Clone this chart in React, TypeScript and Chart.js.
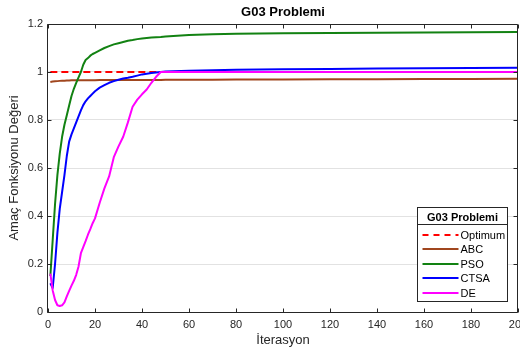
import React, { useEffect, useRef } from "react";
import { Chart, registerables } from "chart.js";

Chart.register(...registerables);

const chartTitle = "G03 Problemi";
const xAxisTitle = "İterasyon";
const yAxisTitle = "Amaç Fonksiyonu Değeri";

const xTickValues = [0, 20, 40, 60, 80, 100, 120, 140, 160, 180, 200];
const xTickLabels = ["0", "20", "40", "60", "80", "100", "120", "140", "160", "180", "200"];
const yTickValues = [0, 0.2, 0.4, 0.6, 0.8, 1, 1.2];
const yTickLabels = ["0", "0.2", "0.4", "0.6", "0.8", "1", "1.2"];

const seriesNames = ["Optimum", "ABC", "PSO", "CTSA", "DE"];

const iterations = [
  1, 2, 3, 4, 5, 6, 7, 8, 9, 10, 11, 12, 13, 14, 15, 16, 17, 18, 19, 20,
  22, 24, 26, 28, 30, 32, 34, 36, 38, 40, 42, 44, 46, 48, 50,
  60, 70, 80, 100, 120, 140, 160, 180, 200,
];

const optimumIterations = [1, 200];
const optimumValues = [1, 1];

const abcValues = [
  0.958, 0.96, 0.961, 0.962, 0.963, 0.964, 0.964, 0.965, 0.965, 0.966, 0.966, 0.966, 0.966, 0.966, 0.966, 0.966, 0.966, 0.966, 0.966, 0.966,
  0.967, 0.967, 0.967, 0.967, 0.967, 0.967, 0.967, 0.967, 0.967, 0.967, 0.967, 0.967, 0.967, 0.967, 0.968,
  0.968, 0.968, 0.969, 0.969, 0.97, 0.97, 0.971, 0.971, 0.972,
];

const psoValues = [
  0.15, 0.3, 0.45, 0.57, 0.66, 0.73, 0.78, 0.82, 0.86, 0.9, 0.93, 0.955, 0.978, 1.0, 1.03, 1.05, 1.058, 1.068, 1.075, 1.08,
  1.09, 1.1, 1.108, 1.115, 1.12, 1.125, 1.13, 1.133, 1.137, 1.14, 1.142, 1.144, 1.145, 1.146, 1.148,
  1.154, 1.157, 1.159, 1.161, 1.162, 1.164, 1.165, 1.166, 1.167,
];

const ctsaValues = [
  0.12, 0.1, 0.2, 0.33, 0.43, 0.5, 0.57, 0.65, 0.71, 0.74, 0.765, 0.79, 0.815, 0.84, 0.862, 0.878, 0.89, 0.9, 0.91, 0.92,
  0.935, 0.945, 0.955, 0.962, 0.968, 0.973, 0.976, 0.98, 0.985, 0.99, 0.993, 0.996, 0.998, 1.0, 1.002,
  1.005, 1.007, 1.009, 1.011, 1.013, 1.015, 1.016, 1.017, 1.018,
];

const deValues = [
  0.16, 0.09, 0.05, 0.028, 0.025, 0.028, 0.04, 0.065, 0.088, 0.11, 0.13, 0.155, 0.19, 0.245, 0.27, 0.295, 0.322, 0.345, 0.37, 0.39,
  0.455, 0.515, 0.565, 0.645, 0.69, 0.73, 0.79, 0.855, 0.885, 0.907, 0.927, 0.955, 0.98, 1.0, 1.0,
  1.0, 1.0, 1.0, 1.0, 1.0, 1.0, 1.0, 1.0, 1.0,
];

const FONT = "'Liberation Sans', Arial, Helvetica, sans-serif";
const AXIS_COLOR = "#262626";

const toPoints = (xs: number[], ys: number[]) => xs.map((x, i) => ({ x, y: ys[i] }));

const framePlugin = {
  id: "frameAndLegend",
  afterDraw(chart: any) {
    const { ctx, chartArea: a } = chart;
    const xs = chart.scales.x;
    const ys = chart.scales.y;
    const L = Math.round(a.left) - 0.5;
    const R = Math.round(a.right) - 0.5;
    const T = Math.round(a.top) + 0.5;
    const B = Math.round(a.bottom) + 0.5;
    ctx.save();
    ctx.strokeStyle = AXIS_COLOR;
    ctx.lineWidth = 1;
    ctx.setLineDash([]);
    ctx.beginPath();
    ctx.rect(L, T, R - L, B - T);
    ctx.stroke();
    const tl = 4;
    ctx.beginPath();
    xTickValues.forEach((v) => {
      const px = Math.round(xs.getPixelForValue(v)) + 0.5;
      ctx.moveTo(px, B);
      ctx.lineTo(px, B - tl);
      ctx.moveTo(px, T);
      ctx.lineTo(px, T + tl);
    });
    yTickValues.forEach((v) => {
      const py = Math.round(ys.getPixelForValue(v)) + 0.5;
      ctx.moveTo(L, py);
      ctx.lineTo(L + tl, py);
      ctx.moveTo(R, py);
      ctx.lineTo(R - tl, py);
    });
    ctx.stroke();

    // legend
    const w = 90;
    const h = 94;
    const lx = Math.round(a.right) - 101 + 0.5;
    const ly = Math.round(a.bottom) - 105 + 0.5;
    ctx.fillStyle = "#ffffff";
    ctx.fillRect(lx, ly, w, h);
    ctx.strokeStyle = AXIS_COLOR;
    ctx.strokeRect(lx, ly, w, h);
    ctx.beginPath();
    ctx.moveTo(lx, ly + 17);
    ctx.lineTo(lx + w, ly + 17);
    ctx.stroke();
    ctx.fillStyle = "#000000";
    ctx.font = `bold 11px ${FONT}`;
    ctx.textAlign = "center";
    ctx.textBaseline = "middle";
    ctx.fillText(chartTitle, lx + w / 2, ly + 10);
    ctx.font = `11px ${FONT}`;
    ctx.textAlign = "left";
    chart.data.datasets.forEach((ds: any, i: number) => {
      const y = Math.round(ly + 27.5 + i * 14.4);
      ctx.strokeStyle = ds.borderColor;
      ctx.lineWidth = 2;
      ctx.setLineDash(ds.borderDash && ds.borderDash.length ? [6, 5] : []);
      ctx.beginPath();
      ctx.moveTo(lx + 5, y);
      ctx.lineTo(lx + 41, y);
      ctx.stroke();
      ctx.fillStyle = "#000000";
      ctx.fillText(ds.label, lx + 43, y + 0.5);
    });
    ctx.restore();
  },
};

export default function App() {
  const canvasRef = useRef<HTMLCanvasElement | null>(null);

  useEffect(() => {
    document.body.style.margin = "0";
    const canvas = canvasRef.current;
    if (!canvas) return;
    const line = (label: string, data: any[], color: string, order: number, dash?: number[]) => ({
      label,
      data,
      borderColor: color,
      backgroundColor: color,
      borderWidth: 2,
      borderDash: dash || [],
      pointRadius: 0,
      pointHoverRadius: 0,
      tension: 0,
      fill: false,
      borderJoinStyle: "round" as const,
      order,
    });
    const chart = new Chart(canvas, {
      type: "line",
      data: {
        datasets: [
          line(seriesNames[0], toPoints(optimumIterations, optimumValues), "#ff0000", 5, [7, 4]),
          line(seriesNames[1], toPoints(iterations, abcValues), "#a0461e", 4),
          line(seriesNames[2], toPoints(iterations, psoValues), "#128212", 3),
          line(seriesNames[3], toPoints(iterations, ctsaValues), "#0000ff", 2),
          line(seriesNames[4], toPoints(iterations, deValues), "#ff00ff", 1),
        ],
      },
      options: {
        animation: false,
        responsive: false,
        events: [],
        layout: { padding: { left: 0, right: 27, top: 0, bottom: 0 } },
        plugins: {
          legend: { display: false },
          tooltip: { enabled: false },
          title: {
            display: true,
            text: chartTitle,
            fullSize: false,
            color: "#000000",
            font: { family: FONT, size: 13, weight: "bold", lineHeight: 1.2 },
            padding: { top: 4.2, bottom: 4.2 },
          },
        },
        scales: {
          x: {
            type: "linear",
            min: 0,
            max: 200,
            afterBuildTicks: (s: any) => {
              s.ticks = xTickValues.map((v) => ({ value: v }));
            },
            afterFit: (s: any) => {
              s.height = 43;
            },
            grid: { display: false, drawTicks: false },
            border: { display: false },
            ticks: {
              autoSkip: false,
              maxRotation: 0,
              padding: 6,
              color: AXIS_COLOR,
              font: { family: FONT, size: 11 },
              callback: (_v: any, i: number) => xTickLabels[i],
            },
            title: {
              display: true,
              text: xAxisTitle,
              color: AXIS_COLOR,
              font: { family: FONT, size: 13, lineHeight: 1.2 },
              padding: { top: 0, bottom: 7 },
            },
          },
          y: {
            type: "linear",
            min: 0,
            max: 1.2,
            afterBuildTicks: (s: any) => {
              s.ticks = yTickValues.map((v) => ({ value: v }));
            },
            afterFit: (s: any) => {
              s.width = 48;
            },
            grid: {
              display: true,
              drawTicks: false,
              color: (c: any) => (c.tick && (c.tick.value === 0 || c.tick.value === 1.2) ? "rgba(0,0,0,0)" : "#e2e2e2"),
              lineWidth: 1,
            },
            border: { display: false },
            ticks: {
              autoSkip: false,
              padding: 5,
              color: AXIS_COLOR,
              font: { family: FONT, size: 11 },
              callback: (_v: any, i: number) => yTickLabels[i],
            },
            title: {
              display: true,
              text: yAxisTitle,
              color: AXIS_COLOR,
              font: { family: FONT, size: 13, lineHeight: 1.2 },
              padding: { top: 7, bottom: 0 },
            },
          },
        },
      },
      plugins: [framePlugin],
    } as any);
    return () => chart.destroy();
  }, []);

  return (
    <div style={{ width: 520, height: 355, overflow: "hidden", background: "#ffffff" }}>
      <canvas ref={canvasRef} width={545} height={355} style={{ display: "block", width: 545, height: 355 }} />
    </div>
  );
}
